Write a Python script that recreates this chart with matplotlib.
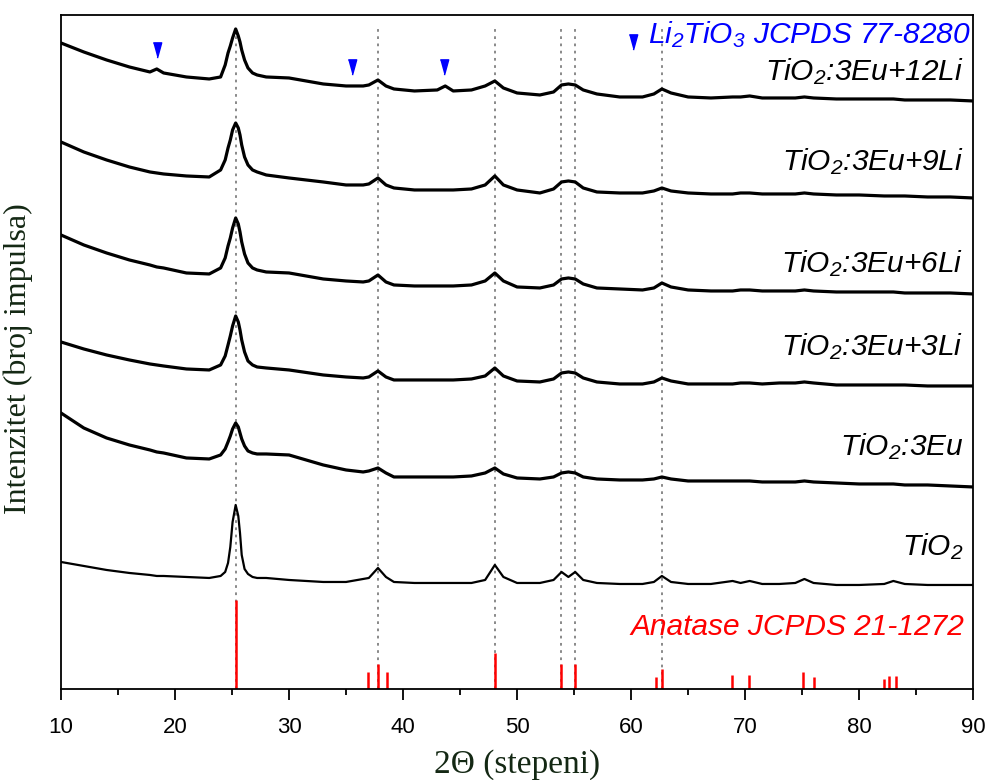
import matplotlib
matplotlib.use("Agg")
import matplotlib.pyplot as plt

plt.rcParams["mathtext.fontset"] = "custom"
plt.rcParams["mathtext.rm"] = "Liberation Sans:italic"
plt.rcParams["mathtext.it"] = "Liberation Sans:italic"
plt.rcParams["mathtext.default"] = "rm"

# 2theta grid (degrees) shared by all patterns
two_theta = [10, 12, 14, 16, 17.8, 18.4, 19, 21, 23,
             24.0, 24.4, 24.65, 24.85, 25.05, 25.32, 25.55, 25.7, 25.85, 26.1, 26.4, 26.8, 27.2, 28,
             30, 33, 35, 36.5, 37.0, 37.8, 38.5, 39.2,
             41, 43, 43.7, 44.4, 46, 47.2, 48.05, 48.8, 50,
             52, 53.2, 53.9, 54.5, 55.1, 55.8, 57, 59, 61,
             62, 62.7, 63.5, 65, 67, 68.9, 69.6, 70.4, 71.5,
             73, 74.4, 75.2, 76, 78, 80, 82.2, 83, 84, 86, 88, 90]

# intensities (a.u., already stacked)
tio2_12li = [646, 637, 629, 622, 617, 620, 616, 612, 610,
             612, 624, 636, 643, 651, 660, 653, 647, 639, 629, 621, 616, 614, 612,
             611, 605, 603, 603, 604, 609, 603, 600,
             598, 599, 603, 598, 599, 603, 608, 601, 596,
             594, 597, 604, 605, 604, 599, 595, 592, 592,
             595, 600, 596, 592, 591, 592, 592, 593, 591,
             591, 591, 592, 591, 590, 590, 590, 590, 589, 589, 589, 588]
tio2_9li = [547, 537, 529, 522, 517, 516, 515, 513, 512,
            519, 529, 541, 549, 559, 566, 561, 554, 544, 532, 524, 519, 517, 514,
            511, 507, 504, 504, 505, 511, 504, 501,
            499, 499, 499, 499, 500, 504, 513, 504, 499,
            496, 500, 507, 508, 507, 501, 497, 496, 496,
            498, 501, 498, 496, 495, 495, 496, 496, 495,
            495, 495, 496, 495, 494, 494, 493, 493, 493, 492, 492, 491]
tio2_6li = [454, 444, 436, 429, 424, 422, 421, 416, 415,
            421, 431, 443, 451, 461, 471, 465, 457, 447, 435, 426, 421, 419, 417,
            416, 410, 408, 407, 408, 414, 407, 404,
            403, 403, 403, 403, 404, 408, 416, 408, 402,
            401, 404, 410, 411, 410, 405, 401, 400, 399,
            401, 406, 402, 399, 398, 398, 399, 399, 398,
            398, 398, 399, 398, 397, 397, 397, 397, 396, 396, 396, 395]
tio2_3li = [347, 340, 334, 329, 325, 324, 323, 320, 319,
            324, 333, 344, 353, 363, 373, 367, 359, 349, 337, 328, 324, 322, 321,
            319, 314, 312, 311, 312, 318, 312, 309,
            309, 309, 309, 309, 310, 313, 321, 313, 308,
            307, 310, 316, 317, 316, 311, 307, 305, 305,
            307, 311, 308, 305, 305, 305, 306, 306, 305,
            306, 306, 307, 306, 304, 304, 304, 304, 304, 303, 303, 303]
tio2_3eu = [276, 261, 251, 244, 239, 237, 236, 231, 230,
            234, 240, 247, 253, 260, 266, 262, 256, 250, 243, 238, 236, 235, 235,
            234, 224, 219, 217, 218, 221, 216, 212,
            212, 212, 212, 212, 213, 216, 221, 215, 211,
            210, 212, 216, 217, 216, 212, 210, 209, 209,
            210, 212, 210, 208, 208, 208, 208, 208, 207,
            207, 207, 208, 207, 206, 205, 205, 205, 204, 204, 203, 202]
tio2 = [127, 123, 119, 116, 114, 113, 113, 112, 111,
        113, 117, 126, 142, 167, 184, 173, 156, 134, 120, 115, 112, 111, 111,
        109, 107, 107, 110, 111, 121, 112, 107,
        106, 106, 106, 106, 106, 109, 124, 112, 106,
        106, 109, 117, 112, 117, 109, 106, 105, 105,
        107, 113, 107, 105, 105, 108, 106, 108, 105,
        105, 106, 110, 106, 104, 104, 105, 108, 105, 104, 104, 104]

patterns = [tio2_12li, tio2_9li, tio2_6li, tio2_3li, tio2_3eu, tio2]
labels = ["TiO$_2$:3Eu+12Li", "TiO$_2$:3Eu+9Li", "TiO$_2$:3Eu+6Li",
          "TiO$_2$:3Eu+3Li", "TiO$_2$:3Eu", "TiO$_2$"]
label_y = [609, 519, 417, 334, 234, 134]

# anatase JCPDS 21-1272 reference lines
anatase_pos = [25.32, 36.96, 37.8, 38.57, 48.04, 53.89, 55.06, 62.17, 62.75,
               68.83, 70.38, 75.06, 76.05, 82.16, 82.66, 83.2]
anatase_int = [89, 17, 25, 17, 36, 25, 25, 12, 20, 14, 14, 17, 12, 10, 13, 13]
guide_pos = [25.32, 37.8, 48.04, 53.89, 55.06, 62.75]

# Li2TiO3 reflections marked on the top pattern
li2tio3_pos = [18.4, 35.5, 43.6, 60.2]
li2tio3_y = [639, 622, 622, 647]

fig = plt.figure(figsize=(9.9, 7.8), dpi=100)
ax = fig.add_axes([0.0616, 0.1167, 0.9214, 0.8641])

ax.vlines(guide_pos, 0, 664, colors="#808080", linestyles=(0, (1.5, 2.5)), linewidth=1.3, zorder=1)
ax.vlines(anatase_pos, 0, anatase_int, colors="#ff0000", linewidth=1.8, zorder=2)

for i, y in enumerate(patterns):
    lw = 1.6 if i == len(patterns) - 1 else 2.3
    ax.plot(two_theta, y, color="black", linewidth=lw, zorder=3)

tri = [(-0.55, 1), (0.55, 1), (0, -1)]
ax.plot(li2tio3_pos, li2tio3_y, linestyle="none", marker=tri, markersize=11,
        color="#0000ff", zorder=4)

txt = dict(family="Liberation Sans", style="italic", fontsize=21.5, ha="right", va="baseline")
for lab, yy in zip(labels, label_y):
    ax.text(89.15, yy, lab, color="black", **txt)
ax.text(89.75, 646, "Li$_2$TiO$_3$ JCPDS 77-8280", color="#0000ff", **txt)
ax.text(89.2, 54, "Anatase JCPDS 21-1272", color="#ff0000", **txt)

ax.set_xlim(10, 90)
ax.set_ylim(0, 674)
ax.set_xticks(range(10, 91, 10))
ax.set_xticks(range(15, 90, 10), minor=True)
ax.set_yticks([])
ax.tick_params(axis="x", which="major", direction="out", length=8, width=1.3,
               labelsize=16, pad=12)
ax.tick_params(axis="x", which="minor", direction="out", length=4.5, width=1.3)
for lab in ax.get_xticklabels():
    lab.set_family("Liberation Sans")
for sp in ax.spines.values():
    sp.set_linewidth(1.3)

ax.set_xlabel("2\u0398 (stepeni)", family="Liberation Serif", fontsize=24,
              color="#142814", labelpad=8)
ax.set_ylabel("Intenzitet (broj impulsa)", family="Liberation Serif", fontsize=23,
              color="#142814")
ax.yaxis.set_label_coords(-0.031, 0.49)

fig.savefig("out.png", dpi=100)
